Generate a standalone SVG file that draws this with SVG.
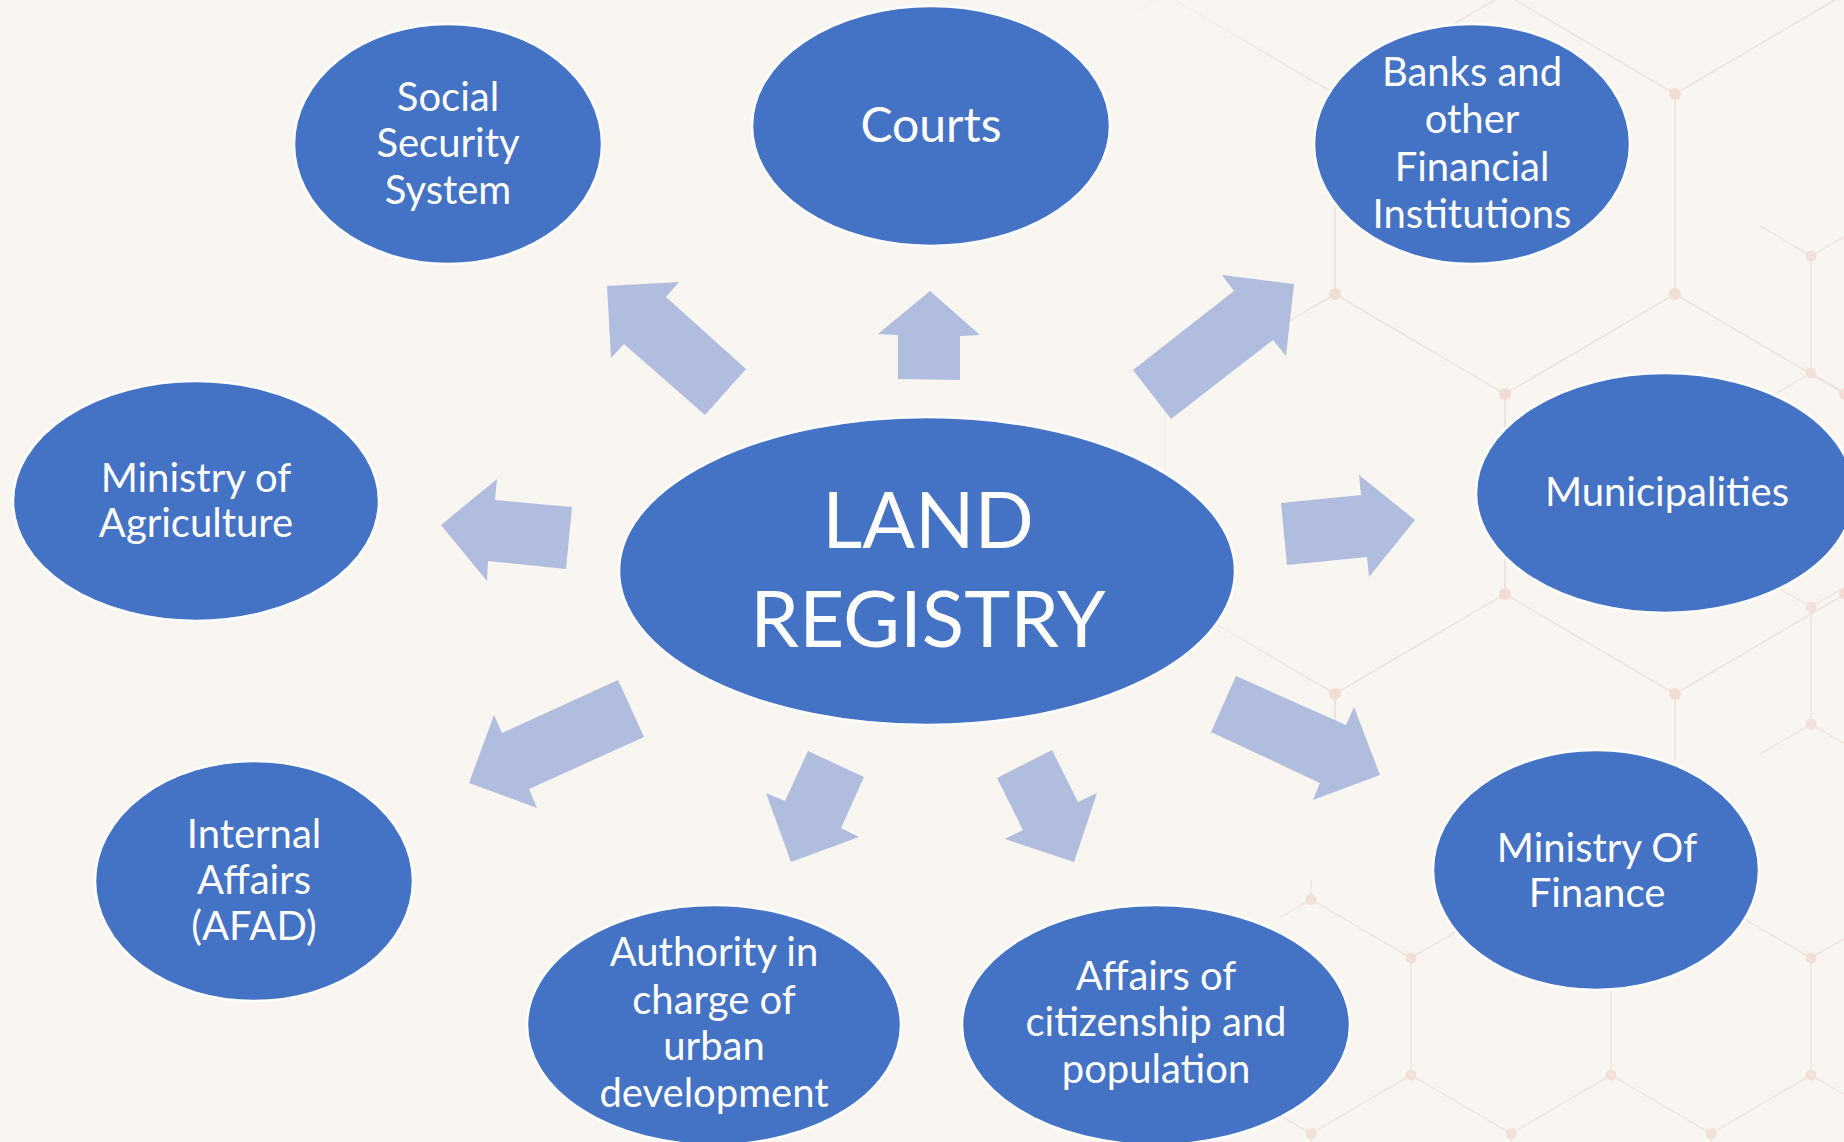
<svg xmlns="http://www.w3.org/2000/svg" width="1844" height="1142" viewBox="0 0 1844 1142">
  <style>
    .node { fill: #4472C4; stroke: #FFFFFF; stroke-width: 2.5; }
    .lbl { font-family: Lato, "Open Sans", sans-serif; fill: #FFFFFF; font-size: 40px; text-anchor: middle; }
    .arrow { fill: #B0BDDF; }
    .hex { fill: none; stroke: #EFE4DD; stroke-width: 2; }
    .dot { fill: #F2DAD4; }
  </style>
  <defs>
    <pattern id="hexBig" patternUnits="userSpaceOnUse" x="1335" y="-106" width="340" height="600">
      <path class="hex" d="M170,0 V100 M170,100 L0,200 M170,100 L340,200 M0,200 V400 M340,200 V400 M0,400 L170,500 M340,400 L170,500 M170,500 V600"/>
      <circle class="dot" cx="170" cy="100" r="6"/>
      <circle class="dot" cx="0" cy="200" r="6"/>
      <circle class="dot" cx="340" cy="200" r="6"/>
      <circle class="dot" cx="0" cy="400" r="6"/>
      <circle class="dot" cx="340" cy="400" r="6"/>
      <circle class="dot" cx="170" cy="500" r="6"/>
    </pattern>
    <pattern id="hexSmall" patternUnits="userSpaceOnUse" x="1411" y="139" width="200" height="351">
      <path class="hex" d="M100,0 V58.5 M100,58.5 L0,117 M100,58.5 L200,117 M0,117 V234 M200,117 V234 M0,234 L100,292.5 M200,234 L100,292.5 M100,292.5 V351"/>
      <circle class="dot" cx="100" cy="58.5" r="5.5"/>
      <circle class="dot" cx="0" cy="117" r="5.5"/>
      <circle class="dot" cx="200" cy="117" r="5.5"/>
      <circle class="dot" cx="0" cy="234" r="5.5"/>
      <circle class="dot" cx="200" cy="234" r="5.5"/>
      <circle class="dot" cx="100" cy="292.5" r="5.5"/>
    </pattern>
    <linearGradient id="fadeBig" x1="1100" y1="0" x2="1320" y2="0" gradientUnits="userSpaceOnUse">
      <stop offset="0" stop-color="#000"/>
      <stop offset="1" stop-color="#fff"/>
    </linearGradient>
    <mask id="mBig" maskUnits="userSpaceOnUse" x="0" y="0" width="1844" height="1142">
      <rect x="0" y="0" width="1844" height="1142" fill="url(#fadeBig)"/>
    </mask>
  </defs>

  <rect x="0" y="0" width="1844" height="1142" fill="#F9F6F1"/>
  <g id="background-pattern">
    <rect x="1100" y="0" width="744" height="760" fill="url(#hexBig)" mask="url(#mBig)" opacity="0.9"/>
    <rect x="1280" y="880" width="564" height="262" fill="url(#hexSmall)" opacity="0.8"/>
    <rect x="1760" y="200" width="84" height="680" fill="url(#hexSmall)" opacity="0.8"/>
  </g>

  <g id="connectors">
    <polygon class="arrow" points="607,286 679,282 666,297 746,369 705,415 624,344 611,358"/>
    <polygon class="arrow" points="930,291 980,335 960,336 960,380 898,379 898,335 878,334"/>
    <polygon class="arrow" points="1222,275 1294,284 1286,356 1273,340 1171,419 1133,370 1234,291"/>
    <polygon class="arrow" points="441,525 497,479 495,500 572,507 566,569 488,561 487,581"/>
    <polygon class="arrow" points="1281,503 1361,495 1359,475 1415,520 1369,577 1367,557 1287,565"/>
    <polygon class="arrow" points="618,680 644,737 529,789 537,808 469,783 494,715 502,733"/>
    <polygon class="arrow" points="808,751 864,777 841,828 859,837 791,862 766,793 785,801"/>
    <polygon class="arrow" points="1052,750 1078,802 1097,793 1074,862 1005,839 1023,830 997,778"/>
    <polygon class="arrow" points="1236,676 1346,725 1354,707 1380,775 1313,800 1320,783 1211,732"/>
  </g>

  <g id="node-social-security">
    <ellipse class="node" cx="448" cy="144" rx="154" ry="120"/>
    <text class="lbl" x="448" y="111">Social</text>
    <text class="lbl" x="448" y="157">Security</text>
    <text class="lbl" x="448" y="204">System</text>
  </g>
  <g id="node-courts">
    <ellipse class="node" cx="931" cy="126" rx="179" ry="120"/>
    <text class="lbl" x="931" y="142" style="font-size:48px">Courts</text>
  </g>
  <g id="node-banks">
    <ellipse class="node" cx="1472" cy="144" rx="158" ry="120"/>
    <text class="lbl" x="1472" y="86">Banks and</text>
    <text class="lbl" x="1472" y="133">other</text>
    <text class="lbl" x="1472" y="181">Financial</text>
    <text class="lbl" x="1472" y="228">Institutions</text>
  </g>
  <g id="node-agriculture">
    <ellipse class="node" cx="196" cy="501" rx="183" ry="120"/>
    <text class="lbl" x="196" y="492">Ministry of</text>
    <text class="lbl" x="196" y="537">Agriculture</text>
  </g>
  <g id="node-land-registry">
    <ellipse class="node" cx="927" cy="571" rx="308" ry="154"/>
    <text class="lbl" x="928" y="548" style="font-size:78px">LAND</text>
    <text class="lbl" x="928" y="647" style="font-size:78px">REGISTRY</text>
  </g>
  <g id="node-municipalities">
    <ellipse class="node" cx="1665" cy="493" rx="189" ry="120"/>
    <text class="lbl" x="1667" y="506">Municipalities</text>
  </g>
  <g id="node-internal-affairs">
    <ellipse class="node" cx="254" cy="881" rx="159" ry="120"/>
    <text class="lbl" x="254" y="848">Internal</text>
    <text class="lbl" x="254" y="894">Affairs</text>
    <text class="lbl" x="254" y="940">(AFAD)</text>
  </g>
  <g id="node-urban-development">
    <ellipse class="node" cx="714" cy="1025" rx="187" ry="120"/>
    <text class="lbl" x="714" y="966">Authority in</text>
    <text class="lbl" x="714" y="1014">charge of</text>
    <text class="lbl" x="714" y="1060">urban</text>
    <text class="lbl" x="714" y="1107">development</text>
  </g>
  <g id="node-citizenship">
    <ellipse class="node" cx="1156" cy="1025" rx="194" ry="120"/>
    <text class="lbl" x="1156" y="990">Affairs of</text>
    <text class="lbl" x="1156" y="1036">citizenship and</text>
    <text class="lbl" x="1156" y="1083">population</text>
  </g>
  <g id="node-finance">
    <ellipse class="node" cx="1596" cy="870" rx="163" ry="120"/>
    <text class="lbl" x="1597" y="862">Ministry Of</text>
    <text class="lbl" x="1597" y="907">Finance</text>
  </g>
</svg>
